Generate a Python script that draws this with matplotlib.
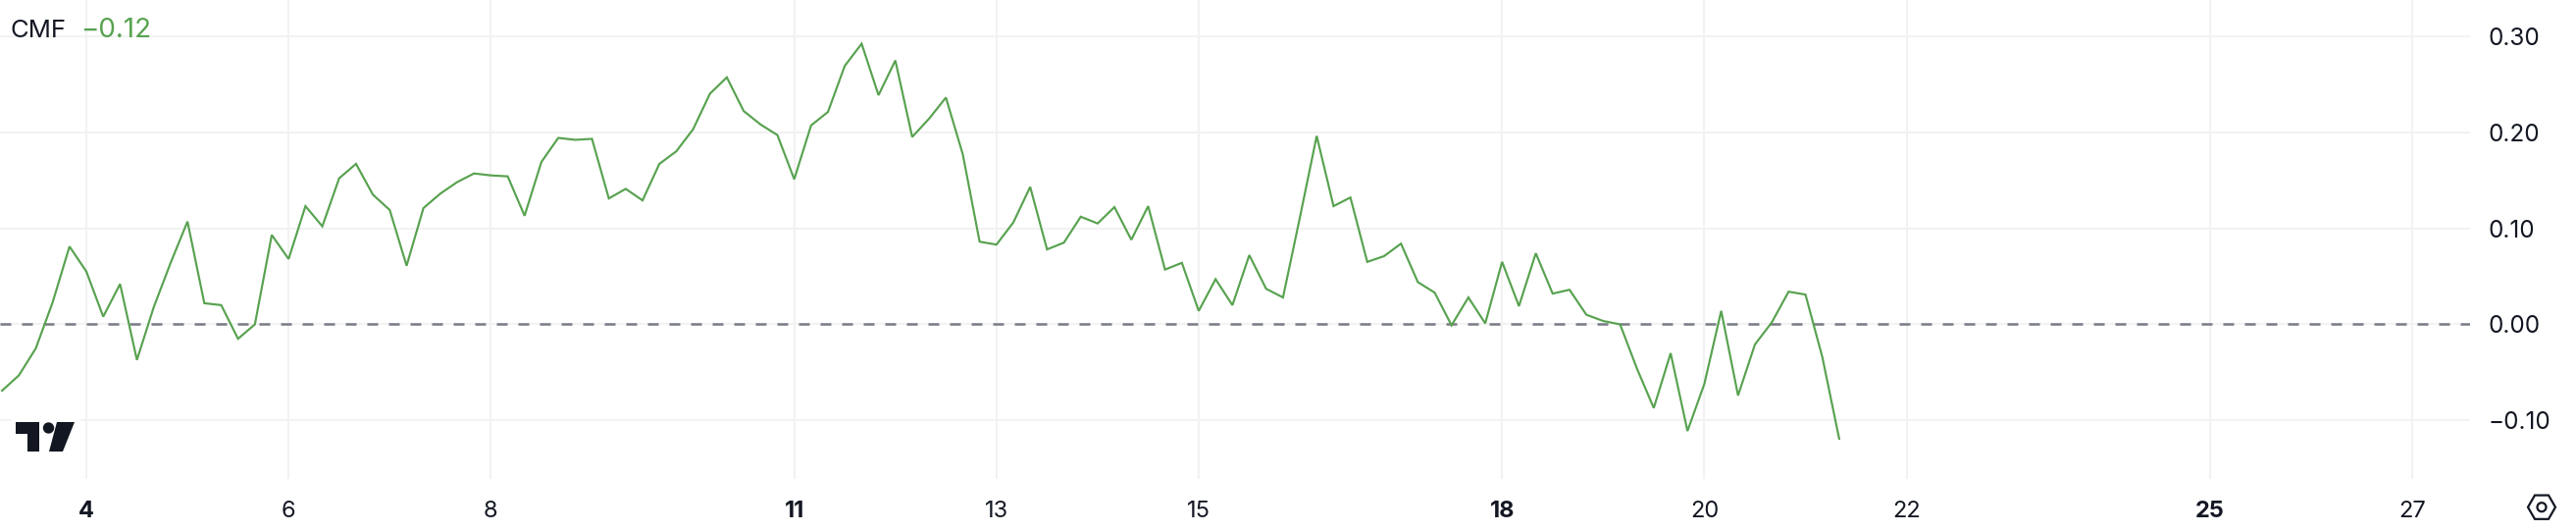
import matplotlib
matplotlib.use('Agg')
import matplotlib.pyplot as plt
import numpy as np
from matplotlib.patches import Polygon, Circle, Rectangle, RegularPolygon

plt.rcParams['font.family'] = ['Inter', 'DejaVu Sans']

# CMF values, 4h candles
cmf = [
    -0.069, -0.053, -0.025, 0.023, 0.081, 0.055, 0.008, 0.042, -0.037, 0.018,
    0.064, 0.107, 0.022, 0.020, -0.015, 0.000, 0.093, 0.068, 0.123, 0.102,
    0.152, 0.167, 0.135, 0.119, 0.061, 0.121, 0.136, 0.148, 0.157, 0.155,
    0.154, 0.113, 0.169, 0.194, 0.192, 0.193, 0.131, 0.141, 0.129, 0.167,
    0.180, 0.203, 0.240, 0.257, 0.222, 0.208, 0.197, 0.151, 0.207, 0.221,
    0.269, 0.292, 0.2385, 0.2746, 0.195, 0.214, 0.236, 0.177, 0.086, 0.083,
    0.106, 0.143, 0.078, 0.085, 0.112, 0.105, 0.122, 0.088, 0.123, 0.057,
    0.064, 0.014, 0.047, 0.020, 0.072, 0.037, 0.028, 0.111, 0.196, 0.123,
    0.132, 0.065, 0.071, 0.084, 0.044, 0.033, -0.001, 0.028, 0.001, 0.065,
    0.019, 0.074, 0.032, 0.036, 0.010, 0.0035, 0.000, -0.046, -0.087, -0.030,
    -0.111, -0.062, 0.014, -0.074, -0.021, 0.002, 0.034, 0.031, -0.034, -0.119,
]
first_day = 3 + 1 / 6
steps_per_day = 6

x_ticks = [4, 6, 8, 11, 13, 15, 18, 20, 22, 25, 27]
bold_ticks = [4, 11, 18, 25]
y_ticks = [-0.10, 0.00, 0.10, 0.20, 0.30]
y_labels = ['\u22120.10', '0.00', '0.10', '0.20', '0.30']

GREEN = '#58a250'
DARK = '#131722'
GRID = '#f2f2f3'
W, H = 2626, 542

fig = plt.figure(figsize=(W / 100, H / 100), dpi=100, facecolor='white')
ax = fig.add_axes([0, 1 - 487.5 / H, 2518 / W, 487.5 / H])

days = first_day + np.arange(len(cmf)) / steps_per_day
ax.plot(days, cmf, color=GREEN, lw=1.55, zorder=3, solid_joinstyle='miter')
ax.axhline(0, color='#787b86', lw=1.8, dashes=(4.4, 4.4), zorder=2)

ax.set_xlim(3.146, 27.572)
ax.set_ylim(-0.1604, 0.3375)
ax.set_xticks(x_ticks)
ax.set_yticks(y_ticks)
ax.set_yticklabels(y_labels)
ax.yaxis.tick_right()
ax.grid(True, color=GRID, lw=1.5, zorder=0)
ax.set_axisbelow(True)
ax.tick_params(axis='both', length=0, labelcolor=DARK)
ax.tick_params(axis='y', pad=13, labelsize=17.5)
ax.tick_params(axis='x', pad=16, labelsize=17)
for spine in ax.spines.values():
    spine.set_visible(False)
for lab, t in zip(ax.get_xticklabels(), x_ticks):
    if t in bold_ticks:
        lab.set_fontweight('bold')

# overlay in pixel coordinates for legend, logo and settings icon
ov = fig.add_axes([0, 0, 1, 1], facecolor='none')
ov.set_xlim(0, W)
ov.set_ylim(H, 0)
ov.axis('off')

ov.text(10, 38.5, 'CMF', color=DARK, fontsize=18.5, va='baseline', ha='left')
ov.text(82, 38.5, '\u22120.12', color=GREEN, fontsize=20, va='baseline', ha='left')

ov.add_patch(Rectangle((12, 422), 69, 44, color='white', zorder=1))
ov.add_patch(Polygon([(16, 430), (40, 430), (40, 460), (28, 460), (28, 442), (16, 442)],
                     closed=True, color=DARK, lw=0, zorder=2))
ov.add_patch(Circle((49.5, 436), 5.7, color=DARK, lw=0, zorder=2))
ov.add_patch(Polygon([(58, 430), (76, 430), (64, 460), (50, 460)],
                     closed=True, color=DARK, lw=0, zorder=2))

ov.add_patch(RegularPolygon((2591, 516.7), 6, radius=14, orientation=np.pi / 6,
                            fill=False, edgecolor=DARK, lw=1.6))
ov.add_patch(Circle((2591, 516.7), 4.5, fill=False, edgecolor=DARK, lw=1.6))

fig.savefig('out.png', dpi=100)
plt.close(fig)
